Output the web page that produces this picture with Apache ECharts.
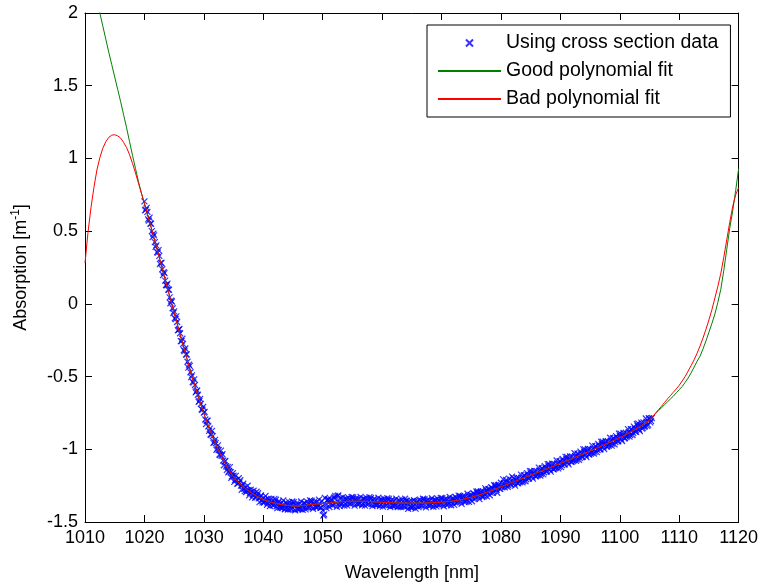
<!DOCTYPE html>
<html><head><meta charset="utf-8">
<script src="https://cdn.jsdelivr.net/npm/echarts@6/dist/echarts.min.js"></script>
<style>html,body{margin:0;padding:0;background:#fff}#c{width:761px;height:587px}</style>
</head><body><div id="c"></div><script>
// ---- axis ticks ----
const xTickValues = [1010,1020,1030,1040,1050,1060,1070,1080,1090,1100,1110,1120];
const yTickValues = [-1.5,-1,-0.5,0,0.5,1,1.5,2];

// ---- measured samples (cross-section data), two interleaved sweeps, 0.25 nm apart each ----
const sampleStartA = 1020;
const sampleStartB = 1020.125;
const sampleStep = 0.25;
const sampleAbsorptionA = [
0.705,0.648,0.632,0.572, 0.552,0.500,0.482,0.424, 0.402,0.352,0.330,0.282, 0.238,0.218,0.160,0.128,
0.098,0.045,0.022,-0.030, -0.052,-0.105,-0.125,-0.178, -0.202,-0.256,-0.275,-0.325, -0.348,-0.398,-0.418,-0.470,
-0.492,-0.542,-0.558,-0.602, -0.625,-0.668,-0.688,-0.728, -0.748,-0.795,-0.805,-0.842, -0.858,-0.900,-0.910,-0.950,
-0.958,-0.995,-1.005,-1.040, -1.045,-1.078,-1.085,-1.118, -1.122,-1.148,-1.158,-1.185, -1.182,-1.210,-1.212,-1.235,
-1.228,-1.250,-1.250,-1.272, -1.262,-1.285,-1.282,-1.302, -1.293,-1.315,-1.305,-1.328, -1.318,-1.338,-1.328,-1.352,
-1.338,-1.358,-1.345,-1.372, -1.352,-1.375,-1.360,-1.385, -1.365,-1.392,-1.370,-1.398, -1.372,-1.402,-1.378,-1.408,
-1.378,-1.410,-1.385,-1.412, -1.380,-1.415,-1.385,-1.410, -1.378,-1.408,-1.382,-1.402, -1.372,-1.400,-1.375,-1.398,
-1.366,-1.395,-1.370,-1.392, -1.362,-1.390,-1.372,-1.400, -1.420,-1.448,-1.385,-1.350, -1.345,-1.378,-1.352,-1.382,
-1.330,-1.370,-1.322,-1.368, -1.335,-1.372,-1.345,-1.375, -1.342,-1.370,-1.345,-1.372, -1.342,-1.368,-1.345,-1.372,
-1.340,-1.370,-1.348,-1.374, -1.342,-1.372,-1.348,-1.375, -1.345,-1.376,-1.350,-1.378, -1.348,-1.378,-1.352,-1.380,
-1.350,-1.382,-1.354,-1.384, -1.352,-1.384,-1.356,-1.388, -1.354,-1.386,-1.358,-1.392, -1.356,-1.390,-1.360,-1.395,
-1.355,-1.392,-1.360,-1.395, -1.356,-1.392,-1.358,-1.390, -1.355,-1.388,-1.356,-1.386, -1.355,-1.384,-1.355,-1.382,
-1.352,-1.380,-1.354,-1.380, -1.350,-1.378,-1.352,-1.376, -1.348,-1.376,-1.350,-1.372, -1.345,-1.370,-1.346,-1.366,
-1.340,-1.364,-1.338,-1.360, -1.332,-1.358,-1.330,-1.350, -1.325,-1.348,-1.320,-1.342, -1.315,-1.338,-1.310,-1.330,
-1.302,-1.325,-1.296,-1.318, -1.290,-1.312,-1.282,-1.302, -1.275,-1.298,-1.268,-1.288, -1.255,-1.280,-1.248,-1.270,
-1.230,-1.255,-1.232,-1.250, -1.228,-1.248,-1.226,-1.245, -1.215,-1.236,-1.210,-1.232, -1.198,-1.222,-1.195,-1.218,
-1.182,-1.206,-1.178,-1.200, -1.166,-1.190,-1.162,-1.185, -1.150,-1.174,-1.146,-1.168, -1.134,-1.158,-1.130,-1.152,
-1.118,-1.142,-1.114,-1.136, -1.100,-1.125,-1.098,-1.120, -1.085,-1.108,-1.080,-1.104, -1.068,-1.092,-1.064,-1.086,
-1.050,-1.075,-1.047,-1.070, -1.034,-1.058,-1.030,-1.052, -1.016,-1.040,-1.012,-1.035, -0.999,-1.023,-0.995,-1.018,
-0.982,-1.005,-0.976,-1.000, -0.963,-0.987,-0.958,-0.981, -0.945,-0.968,-0.940,-0.962, -0.926,-0.950,-0.922,-0.944,
-0.908,-0.932,-0.902,-0.924, -0.886,-0.910,-0.880,-0.902, -0.864,-0.888,-0.858,-0.880, -0.840,-0.864,-0.835,-0.858,
-0.815,-0.840,-0.810,-0.830, -0.790,-0.805
];
const sampleAbsorptionB = [
0.644,0.660,0.581,0.593, 0.552,0.459,0.471,0.392, 0.356,0.369,0.273,0.282, 0.198,0.211,0.130,0.139,
0.097,0.004,0.016,-0.063, -0.099,-0.086,-0.182,-0.173, -0.256,-0.240,-0.319,-0.307, -0.347,-0.439,-0.426,-0.504,
-0.536,-0.519,-0.609,-0.596, -0.674,-0.653,-0.726,-0.709, -0.743,-0.826,-0.804,-0.873, -0.898,-0.873,-0.956,-0.935,
-1.004,-0.973,-1.036,-1.009, -1.034,-1.110,-1.080,-1.142, -1.158,-1.123,-1.196,-1.165, -1.224,-1.183,-1.236,-1.199,
-1.213,-1.278,-1.237,-1.288, -1.294,-1.251,-1.317,-1.278, -1.331,-1.285,-1.334,-1.292, -1.302,-1.363,-1.318,-1.365,
-1.367,-1.321,-1.382,-1.340, -1.390,-1.341,-1.386,-1.341, -1.347,-1.405,-1.357,-1.401, -1.401,-1.352,-1.412,-1.367,
-1.414,-1.364,-1.407,-1.359, -1.364,-1.420,-1.370,-1.412, -1.410,-1.359,-1.416,-1.369, -1.413,-1.360,-1.400,-1.351,
-1.354,-1.409,-1.358,-1.399, -1.397,-1.346,-1.403,-1.356, -1.455,-1.335,-1.405,-1.345, -1.397,-1.344,-1.385,-1.336,
-1.320,-1.395,-1.318,-1.390, -1.380,-1.329,-1.387,-1.341, -1.386,-1.334,-1.376,-1.328, -1.331,-1.387,-1.337,-1.379,
-1.377,-1.327,-1.385,-1.339, -1.387,-1.335,-1.377,-1.329, -1.335,-1.391,-1.341,-1.383, -1.383,-1.333,-1.391,-1.345,
-1.394,-1.342,-1.384,-1.336, -1.341,-1.397,-1.347,-1.389, -1.389,-1.339,-1.397,-1.351, -1.398,-1.346,-1.388,-1.340,
-1.354,-1.410,-1.360,-1.402, -1.400,-1.350,-1.408,-1.362, -1.398,-1.346,-1.388,-1.340, -1.343,-1.399,-1.349,-1.391,
-1.387,-1.337,-1.395,-1.349, -1.393,-1.341,-1.383,-1.335, -1.336,-1.392,-1.342,-1.384, -1.379,-1.328,-1.385,-1.338,
-1.382,-1.328,-1.369,-1.319, -1.321,-1.375,-1.323,-1.363, -1.359,-1.306,-1.362,-1.313, -1.357,-1.302,-1.341,-1.290,
-1.290,-1.343,-1.290,-1.329, -1.323,-1.269,-1.324,-1.274, -1.316,-1.260,-1.299,-1.247, -1.247,-1.299,-1.244,-1.272,
-1.261,-1.207,-1.261,-1.211, -1.258,-1.202,-1.240,-1.188, -1.198,-1.250,-1.196,-1.234, -1.228,-1.174,-1.228,-1.178,
-1.220,-1.164,-1.202,-1.150, -1.150,-1.202,-1.148,-1.186, -1.180,-1.126,-1.180,-1.130, -1.172,-1.116,-1.154,-1.102,
-1.102,-1.154,-1.099,-1.137, -1.131,-1.077,-1.131,-1.081, -1.123,-1.067,-1.104,-1.052, -1.052,-1.104,-1.049,-1.087,
-1.081,-1.027,-1.080,-1.030, -1.072,-1.016,-1.053,-1.001, -1.001,-1.053,-0.998,-1.036, -1.030,-0.975,-1.029,-0.978,
-1.020,-0.963,-1.001,-0.948, -0.948,-0.999,-0.945,-0.982, -0.976,-0.921,-0.975,-0.924, -0.966,-0.909,-0.946,-0.893,
-0.892,-0.943,-0.887,-0.924, -0.916,-0.861,-0.913,-0.862, -0.902,-0.844,-0.880,-0.826, -0.824,-0.874,-0.817,-0.853,
-0.845,-0.788,-0.839,-0.786, -0.815,-0.785
];

// ---- polynomial fits ----
const fitWavelength = [
1010,1010.5,1011,1011.5,1012,1012.5,1013,1013.5,1014,1014.5,1015,1015.5,1016,1016.5,1017,1017.5,1018,1018.5,1019,1019.5,1020,
1021,1022,1023,1024,1025,1026,1027,1028,1029,1030,
1031,1032,1033,1034,1035,1036,1037,1038,1039,1040,
1041,1042,1043,1044,1045,1046,1047,1048,1049,1050,
1051,1052,1053,1054,1055,1056,1057,1058,1059,1060,
1061,1062,1063,1064,1065,1066,1067,1068,1069,1070,
1071,1072,1073,1074,1075,1076,1077,1078,1079,1080,
1081,1082,1083,1084,1085,1086,1087,1088,1089,1090,
1091,1092,1093,1094,1095,1096,1097,1098,1099,1100,
1101,1102,1103,1104,1105,
1105.5,1106,1106.5,1107,1107.5,1108,1108.5,1109,1109.5,1110,
1110.5,1111,1111.5,1112,1112.5,1113,1113.5,1114,1114.5,1115,
1115.5,1116,1116.5,1117,1117.5,1118,1118.5,1119,1119.5,1120
];
const goodFit = [
2.50,2.40,2.30,2.20,2.10,2.00,1.91,1.82,1.73,1.645,1.56,1.475,1.39,1.30,1.21,1.115,1.02,0.93,0.84,0.76,0.69,
0.545,0.395,0.245,0.09,-0.06,-0.21,-0.355,-0.50,-0.63,-0.755,
-0.865,-0.965,-1.05,-1.13,-1.19,-1.235,-1.27,-1.30,-1.325,-1.345,
-1.36,-1.372,-1.38,-1.386,-1.39,-1.39,-1.386,-1.38,-1.377,-1.374,
-1.37,-1.365,-1.36,-1.358,-1.357,-1.357,-1.358,-1.36,-1.362,-1.365,
-1.367,-1.368,-1.37,-1.37,-1.37,-1.37,-1.37,-1.368,-1.366,-1.364,
-1.36,-1.355,-1.348,-1.34,-1.33,-1.318,-1.305,-1.29,-1.275,-1.258,
-1.242,-1.226,-1.21,-1.194,-1.178,-1.162,-1.146,-1.13,-1.113,-1.097,
-1.08,-1.063,-1.046,-1.029,-1.012,-0.994,-0.976,-0.958,-0.94,-0.921,
-0.899,-0.877,-0.853,-0.828,-0.80,
-0.78,-0.755,-0.735,-0.715,-0.695,-0.675,-0.655,-0.635,-0.612,-0.59,
-0.568,-0.54,-0.51,-0.475,-0.435,-0.395,-0.36,-0.31,-0.255,-0.195,
-0.135,-0.07,0.01,0.10,0.23,0.375,0.52,0.64,0.78,0.93
];
const badFit = [
0.28,0.49,0.66,0.80,0.92,1.005,1.07,1.115,1.145,1.16,1.163,1.155,1.14,1.11,1.075,1.025,0.965,0.90,0.83,0.76,0.69,
0.545,0.395,0.245,0.09,-0.06,-0.21,-0.355,-0.50,-0.63,-0.755,
-0.865,-0.965,-1.05,-1.13,-1.19,-1.235,-1.27,-1.30,-1.325,-1.345,
-1.36,-1.372,-1.38,-1.386,-1.39,-1.39,-1.386,-1.38,-1.377,-1.374,
-1.37,-1.365,-1.36,-1.358,-1.357,-1.357,-1.358,-1.36,-1.362,-1.365,
-1.367,-1.368,-1.37,-1.37,-1.37,-1.37,-1.37,-1.368,-1.366,-1.364,
-1.36,-1.355,-1.348,-1.34,-1.33,-1.318,-1.305,-1.29,-1.275,-1.258,
-1.242,-1.226,-1.21,-1.194,-1.178,-1.162,-1.146,-1.13,-1.113,-1.097,
-1.08,-1.063,-1.046,-1.029,-1.012,-0.994,-0.976,-0.958,-0.94,-0.921,
-0.899,-0.877,-0.853,-0.828,-0.80,
-0.778,-0.752,-0.728,-0.705,-0.68,-0.655,-0.632,-0.608,-0.585,-0.56,
-0.53,-0.50,-0.462,-0.425,-0.385,-0.34,-0.29,-0.235,-0.175,-0.11,
-0.04,0.04,0.12,0.21,0.32,0.44,0.56,0.67,0.75,0.80
];
const seriesNames = ['Using cross section data','Good polynomial fit','Bad polynomial fit'];

const scatterData = sampleAbsorptionA.map((v, i) => [sampleStartA + i * sampleStep, v])
  .concat(sampleAbsorptionB.map((v, i) => [sampleStartB + i * sampleStep, v]));
const goodData = fitWavelength.map((x, i) => [x, goodFit[i]]);
const badData = fitWavelength.map((x, i) => [x, badFit[i]]);

const FONT = "'Liberation Sans', Arial, sans-serif";
const xMin = xTickValues[0], xMax = xTickValues[xTickValues.length - 1];
const yMin = yTickValues[0], yMax = yTickValues[yTickValues.length - 1];
const xInt = xTickValues[1] - xTickValues[0], yInt = yTickValues[1] - yTickValues[0];
const crossPath = 'path://M0,0L10,10M10,0L0,10';

const axisCommon = {
  axisLine: { show: true, onZero: false, lineStyle: { color: '#000', width: 1 } },
  axisTick: { show: true, inside: true, length: 7, lineStyle: { color: '#000', width: 1 } },
  splitLine: { show: false }
};

const chart = echarts.init(document.getElementById('c'), null, { renderer: 'canvas' });
chart.setOption({
  animation: false,
  backgroundColor: '#fff',
  grid: { left: 85, right: 22, top: 13, bottom: 60, containLabel: false },
  xAxis: [
    Object.assign({}, axisCommon, {
      type: 'value', position: 'bottom', min: xMin, max: xMax, interval: xInt,
      name: 'Wavelength [nm]', nameLocation: 'middle', nameGap: 42,
      nameTextStyle: { fontFamily: FONT, fontSize: 18, color: '#000' },
      axisLabel: { fontFamily: FONT, fontSize: 18, color: '#000', margin: 7,
        formatter: v => String(v) }
    }),
    Object.assign({}, axisCommon, {
      type: 'value', position: 'top', min: xMin, max: xMax, interval: xInt,
      axisLabel: { show: false }
    })
  ],
  yAxis: [
    Object.assign({}, axisCommon, {
      type: 'value', position: 'left', min: yMin, max: yMax, interval: yInt,
      name: 'Absorption [m{sup|-1}]', nameLocation: 'middle', nameGap: 53, nameRotate: 90,
      nameTextStyle: { fontFamily: FONT, fontSize: 18, color: '#000', lineHeight: 22,
        rich: { sup: { fontFamily: FONT, fontSize: 12, color: '#000', verticalAlign: 'top', lineHeight: 12 } } },
      axisLabel: { fontFamily: FONT, fontSize: 18, color: '#000', margin: 7,
        formatter: v => String(v) }
    }),
    Object.assign({}, axisCommon, {
      type: 'value', position: 'right', min: yMin, max: yMax, interval: yInt,
      axisLabel: { show: false }
    })
  ],
  legend: {
    data: [
      { name: seriesNames[0] },
      { name: seriesNames[1], itemStyle: { opacity: 0 } },
      { name: seriesNames[2], itemStyle: { opacity: 0 } }
    ],
    orient: 'vertical', left: 427, top: 25,
    padding: [8, 12, 8, 10],
    itemWidth: 63, itemHeight: 7, itemGap: 8,
    backgroundColor: '#fff', borderColor: '#000', borderWidth: 1, borderRadius: 0,
    textStyle: { fontFamily: FONT, fontSize: 19.5, color: '#000', lineHeight: 20 },
    selectedMode: false, z: 10
  },
  series: [
    {
      name: seriesNames[0], type: 'scatter', data: scatterData,
      symbol: crossPath, symbolSize: 6,
      itemStyle: { color: 'rgba(0,0,0,0)', borderColor: '#0000ff', borderWidth: 1.2 },
      xAxisIndex: 0, yAxisIndex: 0, z: 2
    },
    {
      name: seriesNames[1], type: 'line', data: goodData, symbol: 'none', showSymbol: false,
      lineStyle: { color: '#008000', width: 1 }, itemStyle: { color: '#008000' },
      clip: true, xAxisIndex: 0, yAxisIndex: 0, z: 3
    },
    {
      name: seriesNames[2], type: 'line', data: badData, symbol: 'none', showSymbol: false,
      lineStyle: { color: '#ff0000', width: 1 }, itemStyle: { color: '#ff0000' },
      clip: true, xAxisIndex: 0, yAxisIndex: 0, z: 4
    }
  ]
});
</script></body></html>
